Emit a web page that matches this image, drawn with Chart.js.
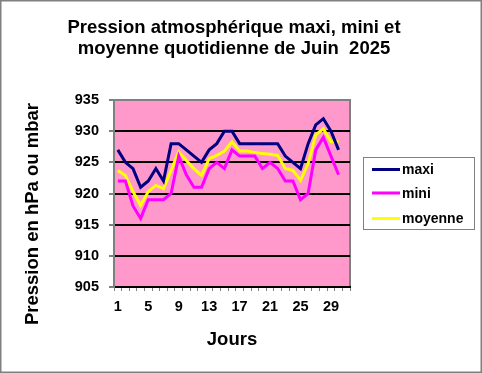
<!DOCTYPE html>
<html>
<head>
<meta charset="utf-8">
<script src="https://cdn.jsdelivr.net/npm/chart.js@4"></script>
<style>
    body { margin: 0; background: #ffffff; }
    #wrap { width: 482px; height: 373px; }
</style>
</head>
<body>
<div id="wrap"><canvas id="pressionChart" width="482" height="373"></canvas></div>
<script>
// Jours de juin (31 cases sur l'axe, la derniere vide)
const jours = [];
for (let d = 1; d <= 31; d++) jours.push(String(d));

const maxi = [927, 925, 924, 921, 922, 924, 922, 928, 928, 927, 926, 925, 927, 928, 930,
              930, 928, 928, 928, 928, 928, 928, 926, 925, 924, 928, 931, 932, 930, 927];
const mini = [922, 922, 918, 916, 919, 919, 919, 920, 926, 923, 921, 921, 924, 925, 924,
              927, 926, 926, 926, 924, 925, 924, 922, 922, 919, 920, 927, 929, 926, 923];
const moyenne = [923.7, 922.9, 920.3, 918.1, 920.3, 921.3, 920.8, 923.7, 926.7, 925.3,
                 924.0, 922.9, 925.6, 926.1, 926.8, 928.3, 926.8, 926.8, 926.6, 926.4,
                 926.3, 926.1, 924.0, 923.7, 922.1, 924.8, 929.4, 930.4, 928.3, 928.3];

const yMin = 905;
const yMax = 935;
const yStep = 5;

const FONT = 'Arial, "Liberation Sans", sans-serif';

// Fond rose, cadre, titres et legende
const decorPlugin = {
    id: 'decor',
    beforeDraw(chart) {
        const ctx = chart.ctx;
        const a = chart.chartArea;
        ctx.save();
        ctx.fillStyle = '#ffffff';
        ctx.fillRect(0, 0, chart.width, chart.height);
        ctx.fillStyle = '#ff99cc';
        ctx.fillRect(a.left, a.top, a.right - a.left, a.bottom - a.top);
        ctx.strokeStyle = '#808080';
        ctx.lineWidth = 2;
        ctx.strokeRect(a.left, a.top, a.right - a.left, a.bottom - a.top);
        ctx.restore();
    },
    afterDraw(chart) {
        const ctx = chart.ctx;
        const a = chart.chartArea;
        ctx.save();

        // cadre exterieur
        ctx.strokeStyle = '#808080';
        ctx.lineWidth = 1.5;
        ctx.strokeRect(0.75, 0.75, chart.width - 1.5, chart.height - 1.5);

        // titre
        ctx.fillStyle = '#000000';
        ctx.font = 'bold 18.5px ' + FONT;
        ctx.textAlign = 'center';
        ctx.textBaseline = 'alphabetic';
        ctx.fillText('Pression atmosphérique maxi, mini et', 234, 33);
        ctx.fillText('moyenne quotidienne de Juin  2025', 234, 54);

        // titre axe X
        ctx.fillText('Jours', (a.left + a.right) / 2, 345);

        // titre axe Y
        ctx.save();
        ctx.translate(38, 214);
        ctx.rotate(-Math.PI / 2);
        ctx.fillText('Pression en hPa ou mbar', 0, 0);
        ctx.restore();

        // legende
        const bx = 363.5, by = 157.5, bw = 111, bh = 72;
        ctx.fillStyle = '#ffffff';
        ctx.fillRect(bx, by, bw, bh);
        ctx.strokeStyle = '#808080';
        ctx.lineWidth = 1;
        ctx.strokeRect(bx, by, bw, bh);
        ctx.font = 'bold 14px ' + FONT;
        ctx.textAlign = 'left';
        ctx.textBaseline = 'middle';
        const rows = [169.5, 193, 218.5];
        chart.data.datasets.forEach((ds, i) => {
            ctx.strokeStyle = ds.borderColor;
            ctx.lineWidth = 3;
            ctx.beginPath();
            ctx.moveTo(372, rows[i]);
            ctx.lineTo(400, rows[i]);
            ctx.stroke();
            ctx.fillStyle = '#000000';
            ctx.fillText(ds.label, 402, rows[i] + 1);
        });
        ctx.restore();
    }
};

const ctx = document.getElementById('pressionChart').getContext('2d');
const chart = new Chart(ctx, {
    type: 'line',
    data: {
        labels: jours,
        datasets: [
            { label: 'maxi', data: maxi, borderColor: '#000080' },
            { label: 'mini', data: mini, borderColor: '#ff00ff' },
            { label: 'moyenne', data: moyenne, borderColor: '#ffff00' }
        ]
    },
    options: {
        responsive: false,
        animation: false,
        devicePixelRatio: 1,
        layout: {
            padding: { left: 64, right: 132, top: 100, bottom: 60 }
        },
        elements: {
            line: { borderWidth: 3, tension: 0, fill: false },
            point: { radius: 0, hoverRadius: 0 }
        },
        plugins: {
            legend: { display: false },
            title: { display: false },
            tooltip: { enabled: false }
        },
        scales: {
            x: {
                type: 'category',
                offset: true,
                afterFit: function(scale) { scale.height = 26; },
                grid: {
                    offset: true,
                    drawOnChartArea: false,
                    drawTicks: true,
                    tickLength: 4,
                    tickColor: '#808080',
                    color: '#808080'
                },
                border: { color: '#000000', width: 2 },
                ticks: {
                    autoSkip: false,
                    maxRotation: 0,
                    padding: 7,
                    color: '#000000',
                    font: { family: FONT, size: 14.5, weight: 'bold' },
                    callback: function(value, index) {
                        return index % 4 === 0 ? this.getLabelForValue(value) : '';
                    }
                }
            },
            y: {
                min: yMin,
                max: yMax,
                afterFit: function(scale) { scale.width = 50; },
                grid: {
                    color: function(c) {
                        return c.tick && c.tick.value === yMax ? '#808080' : '#000000';
                    },
                    lineWidth: 2,
                    drawTicks: true,
                    tickLength: 5,
                    tickColor: '#808080'
                },
                border: { color: '#808080', width: 2 },
                ticks: {
                    stepSize: yStep,
                    padding: 10,
                    color: '#000000',
                    font: { family: FONT, size: 14.5, weight: 'bold' }
                }
            }
        }
    },
    plugins: [decorPlugin]
});
</script>
</body>
</html>
